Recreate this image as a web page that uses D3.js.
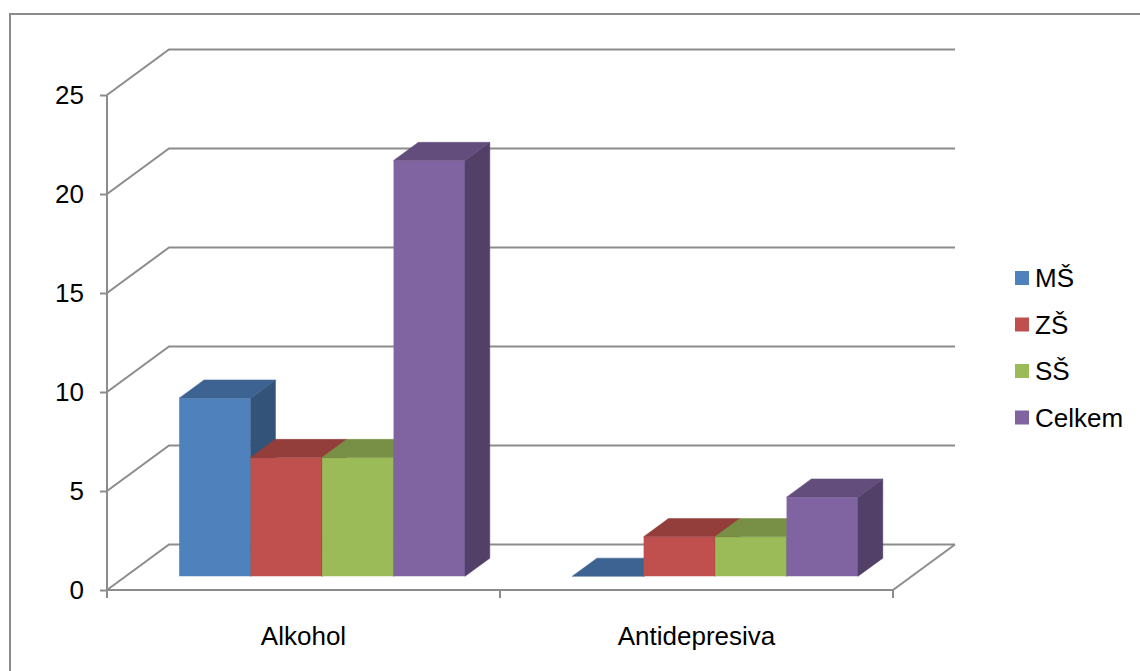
<!DOCTYPE html>
<html lang="en">
    <head>
        <meta charset="utf-8">
        <title>3D Column</title>
        <script src="https://d3js.org/d3.v7.min.js"></script>
        <style type="text/css">
            body { margin: 0; background: #fff; }
            text {
                font-family: "Liberation Sans", Arial, sans-serif;
                font-size: 26px;
                fill: #000;
            }
            .grid {
                fill: none;
                stroke: #8c8c8c;
                stroke-width: 2px;
            }
        </style>
    </head>
    <body>
        <script type="text/javascript">

            // data
            const categories = ["Alkohol", "Antidepresiva"];
            const series = ["MŠ", "ZŠ", "SŠ", "Celkem"];
            const colors = ["#4F81BD", "#C0504D", "#9BBB59", "#8064A2"];
            const values = [
                [9, 6, 6, 21],   // Alkohol
                [0, 2, 2, 4]     // Antidepresiva
            ];
            const yTicks = [0, 5, 10, 15, 20, 25];

            const w = 1140;
            const h = 671;
            const depthX = 62;     // 3d offset of the back wall
            const depthY = -45.5;
            const barFront = 0.3, barBack = 0.7;   // bar depth inside the floor

            const svg = d3.select("body")
                .append("svg")
                .attr("width", w)
                .attr("height", h);

            // outer frame (cut off at right & bottom)
            svg.append("rect")
                .attr("x", 10).attr("y", 14)
                .attr("width", 1200).attr("height", 700)
                .attr("fill", "none")
                .attr("stroke", "#8c8c8c")
                .attr("stroke-width", 2);

            //scales
            const xScale = d3.scaleBand()
                .domain(categories)
                .range([107, 893])
                .paddingInner(0).paddingOuter(0);

            const sScale = d3.scaleBand()
                .domain(series)
                .range([0, xScale.bandwidth()])
                .paddingInner(0).paddingOuter(0.75);

            const yScale = d3.scaleLinear()
                .domain([0, 25])
                .range([590, 95]);

            // project front-plane point (x, value) into depth d (0..1)
            const P = (x, v, d) => [x + d * depthX, yScale(v) + d * depthY];
            const poly = pts => "M" + pts.map(p => p.join(",")).join("L") + "Z";

            const x0 = xScale.range()[0], x1 = xScale.range()[1];

            // left wall + back wall gridlines
            const grid = svg.append("g");
            yTicks.forEach(t => {
                const a = P(x0, t, 0), b = P(x0, t, 1), c = P(x1, t, 1);
                grid.append("path").attr("class", "grid")
                    .attr("d", "M" + a + "L" + b + "L" + c);
            });

            // floor right edge
            grid.append("path").attr("class", "grid")
                .attr("d", "M" + P(x1, 0, 0) + "L" + P(x1, 0, 1));

            // front axes
            const leftAxis = d3.axisLeft(yScale).tickValues(yTicks).tickSize(7).tickPadding(16);
            const ga = svg.append("g")
                .attr("transform", "translate(" + x0 + ",0)")
                .call(leftAxis);
            ga.selectAll("path, line").attr("stroke", "#8c8c8c").attr("stroke-width", 2);
            ga.select(".domain").attr("d", "M0," + yScale(25) + "V" + yScale(0));
            ga.selectAll("text").style("font-size", "26px").attr("fill", "#000");

            const bottomAxis = d3.axisBottom(xScale).tickSize(0).tickPadding(37);
            const gb = svg.append("g")
                .attr("transform", "translate(0," + yScale(0) + ")")
                .call(bottomAxis);
            gb.select(".domain").attr("stroke", "#8c8c8c").attr("stroke-width", 2)
                .attr("d", "M" + x0 + ",0H" + x1);
            gb.selectAll("text").style("font-size", "26px").attr("fill", "#000");
            // category boundary ticks
            gb.selectAll(".bound")
                .data([x0, x0 + xScale.bandwidth(), x1])
                .join("line")
                .attr("x1", d => d).attr("x2", d => d)
                .attr("y1", 0).attr("y2", 8)
                .attr("stroke", "#8c8c8c").attr("stroke-width", 2);

            // bars
            const shade = (c, k) => {
                const r = d3.rgb(c);
                return d3.rgb(r.r * k, r.g * k, r.b * k).formatHex();
            };

            const bars = svg.append("g");
            categories.forEach((cat, ci) => {
                series.forEach((s, si) => {
                    const v = values[ci][si];
                    const xl = xScale(cat) + sScale(s);
                    const xr = xl + sScale.bandwidth();
                    const g = bars.append("g");
                    const top = shade(colors[si], 0.77), side = shade(colors[si], 0.64);
                    // front
                    g.append("path")
                        .attr("d", poly([P(xl, 0, barFront), P(xr, 0, barFront), P(xr, v, barFront), P(xl, v, barFront)]))
                        .attr("fill", colors[si]);
                    // side
                    g.append("path")
                        .attr("d", poly([P(xr, 0, barFront), P(xr, 0, barBack), P(xr, v, barBack), P(xr, v, barFront)]))
                        .attr("fill", side).attr("stroke", side).attr("stroke-width", 0.5);
                    // top
                    g.append("path")
                        .attr("d", poly([P(xl, v, barFront), P(xr, v, barFront), P(xr, v, barBack), P(xl, v, barBack)]))
                        .attr("fill", top).attr("stroke", top).attr("stroke-width", 0.5);
                });
            });

            // legend
            const legend = svg.append("g")
                .selectAll("g")
                .data(series)
                .join("g")
                .attr("transform", (d, i) => "translate(1015," + (271 + i * 46.5) + ")");

            legend.append("rect")
                .attr("width", 14).attr("height", 14)
                .attr("fill", (d, i) => colors[i]);

            legend.append("text")
                .attr("x", 20).attr("y", 16)
                .text(d => d);

        </script>
    </body>
</html>
